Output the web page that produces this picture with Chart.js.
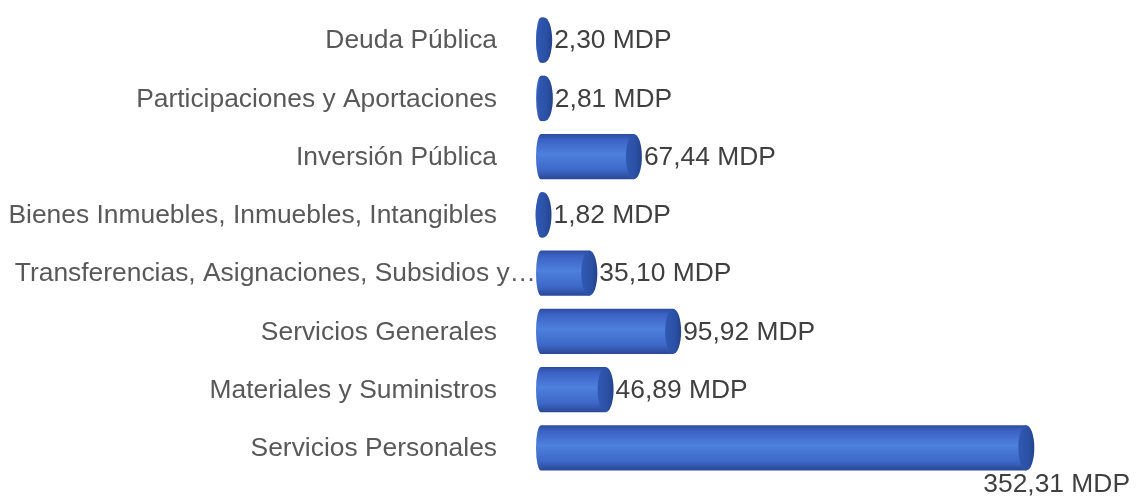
<!DOCTYPE html>
<html>
<head>
<meta charset="utf-8">
<script src="https://cdn.jsdelivr.net/npm/chart.js@4"></script>
<style>
  html, body { margin: 0; padding: 0; background: #ffffff; }
  #wrap { width: 1137px; height: 498px; }
</style>
</head>
<body>
<div id="wrap"><canvas id="chart"></canvas></div>
<script>
const categories = [
  "Deuda Pública",
  "Participaciones y Aportaciones",
  "Inversión Pública",
  "Bienes Inmuebles, Inmuebles, Intangibles",
  "Transferencias, Asignaciones, Subsidios y…",
  "Servicios Generales",
  "Materiales y Suministros",
  "Servicios Personales"
];
const values = [2.30, 2.81, 67.44, 1.82, 35.10, 95.92, 46.89, 352.31];
const valueLabels = ["2,30 MDP", "2,81 MDP", "67,44 MDP", "1,82 MDP", "35,10 MDP", "95,92 MDP", "46,89 MDP", "352,31 MDP"];

const FONT = "26.4px 'Liberation Sans', Arial, sans-serif";

function bodyGradient(ctx, top, bottom) {
  const g = ctx.createLinearGradient(0, top, 0, bottom);
  g.addColorStop(0, "#2c4c9e");
  g.addColorStop(0.12, "#3b62c4");
  g.addColorStop(0.45, "#4e80dd");
  g.addColorStop(0.8, "#3d68c8");
  g.addColorStop(1, "#2a4896");
  return g;
}

// cylinder caps, category labels and value labels
const cylinderPlugin = {
  id: "cylinder",
  afterDatasetsDraw(chart) {
    const ctx = chart.ctx;
    const meta = chart.getDatasetMeta(0);
    const yScale = chart.scales.y;
    const left = chart.chartArea.left;
    ctx.save();
    meta.data.forEach((bar, i) => {
      const h = bar.height;
      const top = bar.y - h / 2;
      const bottom = bar.y + h / 2;
      const ry = h / 2;
      // left rounded end
      ctx.beginPath();
      ctx.ellipse(bar.base, bar.y, 5, ry, 0, Math.PI / 2, Math.PI * 1.5);
      ctx.fillStyle = bodyGradient(ctx, top, bottom);
      ctx.fill();
      // right end face
      const g = ctx.createLinearGradient(bar.x - 8, 0, bar.x + 8, 0);
      g.addColorStop(0, "#3059b2");
      g.addColorStop(0.6, "#2b51a6");
      g.addColorStop(1, "#24428a");
      ctx.beginPath();
      ctx.ellipse(bar.x, bar.y, 8, ry, 0, 0, Math.PI * 2);
      ctx.fillStyle = g;
      ctx.fill();

      // value label
      ctx.font = FONT;
      ctx.fillStyle = "#404040";
      ctx.textBaseline = "middle";
      const tx = bar.x + 10;
      const tw = ctx.measureText(valueLabels[i]).width;
      if (tx + tw > chart.width - 4) {
        ctx.textAlign = "right";
        ctx.fillText(valueLabels[i], chart.width - 7, bottom + 14);
      } else {
        ctx.textAlign = "left";
        ctx.fillText(valueLabels[i], tx, bar.y + 1);
      }

      // category label
      const label = categories[i];
      const y = yScale.getPixelForValue(i);
      ctx.fillStyle = "#595959";
      ctx.textAlign = "right";
      const lx = label.endsWith("…") ? left - 5 : left - 44;
      ctx.fillText(label, lx, y + 1);
    });
    ctx.restore();
  }
};

new Chart(document.getElementById("chart").getContext("2d"), {
  type: "bar",
  data: {
    labels: categories,
    datasets: [
      {
        data: values,
        backgroundColor: (c) => {
          const chart = c.chart;
          if (!chart.chartArea) return "#3f6fd0";
          const y = chart.scales.y.getPixelForValue(c.dataIndex);
          return bodyGradient(chart.ctx, y - 22.5, y + 22.5);
        },
        borderWidth: 0,
        barPercentage: 0.78,
        categoryPercentage: 1
      }
    ]
  },
  options: {
    indexAxis: "y",
    responsive: true,
    maintainAspectRatio: false,
    animation: false,
    layout: { padding: { left: 541, right: 45, top: 11, bottom: 21 } },
    plugins: {
      legend: { display: false },
      tooltip: { enabled: false }
    },
    scales: {
      x: { display: false, min: 0, max: 400 },
      y: { display: false }
    }
  },
  plugins: [cylinderPlugin]
});
</script>
</body>
</html>
